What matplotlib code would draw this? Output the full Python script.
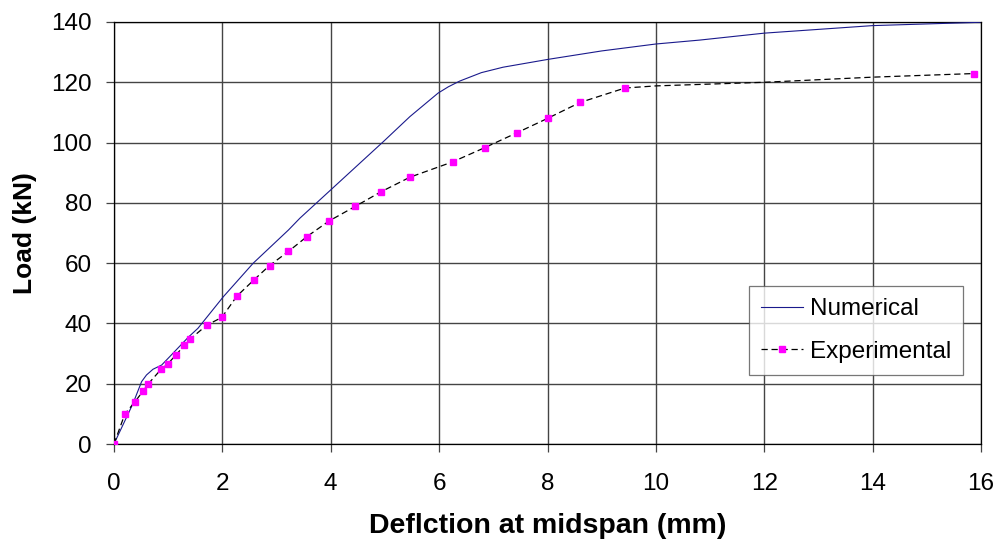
import numpy as np
import matplotlib.pyplot as plt

plt.rcParams['font.family'] = ['Liberation Sans', 'DejaVu Sans']

# Numerical (FE) curve
num_x = [0.0, 0.35, 0.51, 0.60, 0.72, 0.88, 1.03, 1.37, 1.55, 2.02, 2.57, 3.22,
         3.43, 4.0, 4.97, 5.46, 5.98, 6.17, 6.38, 6.78, 7.18, 8.01, 9.0, 10.0,
         10.81, 12.0, 14.0, 15.98]
num_y = [0.0, 13.4, 20.7, 22.9, 24.8, 26.2, 29.0, 35.4, 38.4, 48.9, 60.0, 71.0,
         74.9, 84.3, 100.3, 108.6, 116.4, 118.5, 120.4, 123.2, 125.0, 127.6, 130.4, 132.7,
         134.0, 136.3, 138.8, 139.9]

# Experimental curve (last few points carry no marker in the original)
exp_x = [0.0, 0.2, 0.39, 0.54, 0.63, 0.87, 0.99, 1.14, 1.30, 1.40, 1.71, 1.99,
         2.27, 2.58, 2.87, 3.22, 3.56, 3.97, 4.45, 4.92, 5.46, 6.25, 6.84, 7.43,
         8.01, 8.60, 9.43, 10.0, 12.0, 14.0, 15.87]
exp_y = [0.0, 9.9, 14.1, 17.6, 19.9, 24.8, 26.5, 29.5, 32.7, 34.7, 39.4, 42.0,
         49.1, 54.4, 59.2, 63.9, 68.8, 74.0, 78.8, 83.6, 88.5, 93.6, 98.3, 103.2,
         108.1, 113.3, 118.1, 118.8, 120.0, 121.7, 122.9]
exp_marked = list(range(27)) + [30]

fig = plt.figure(figsize=(9.98, 5.43), dpi=100)
ax = fig.add_axes([0.1142, 0.1823, 0.8688, 0.7772])

ax.plot(num_x, num_y, color='#1a1a8c', lw=0.8, label='Numerical', zorder=3)
ax.plot(exp_x, exp_y, color='black', lw=0.9, dashes=(5, 3), marker='s',
        markersize=4.3, markerfacecolor='#ff00ff', markeredgecolor='#ff00ff',
        markevery=exp_marked, label='Experimental', zorder=4)

ax.set_xlim(0, 16)
ax.set_ylim(0, 140)
ax.set_xticks(np.arange(0, 17, 2))
ax.set_yticks(np.arange(0, 141, 20))
ax.grid(True, color='#444444', lw=1.0)
ax.set_axisbelow(True)
for s in ax.spines.values():
    s.set_color('black')
    s.set_linewidth(0.9)
ax.tick_params(direction='out', length=6, width=0.9, color='#444444', labelsize=17.5)
ax.tick_params(axis='x', pad=15)
ax.tick_params(axis='y', pad=10)

ax.set_xlabel('Deflction at midspan (mm)', fontsize=20.5, fontweight='bold', labelpad=13)
ax.set_ylabel('Load (kN)', fontsize=19, fontweight='bold', labelpad=10)

leg = ax.legend(loc='lower right', bbox_to_anchor=(0.9796, 0.1635), borderaxespad=0,
                fontsize=17.5, frameon=True, fancybox=False, edgecolor='#555555',
                handlelength=1.7, handletextpad=0.3, borderpad=0.5, labelspacing=0.85)
leg.get_frame().set_linewidth(0.9)

fig.savefig('out.png', dpi=100)
